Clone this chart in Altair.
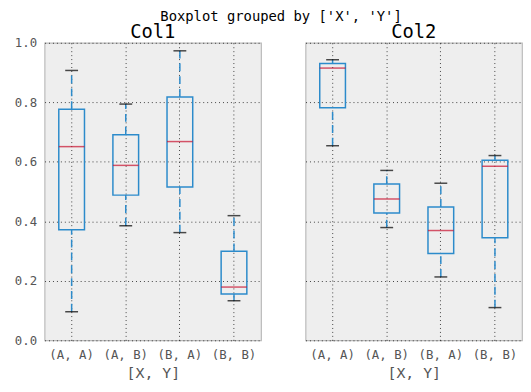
import altair as alt
import pandas as pd

groups = ["(A, A)", "(A, B)", "(B, A)", "(B, B)"]

# Col1 statistics
c1_lo = [0.096, 0.385, 0.362, 0.133]
c1_q1 = [0.372, 0.488, 0.515, 0.156]
c1_med = [0.651, 0.588, 0.668, 0.179]
c1_q3 = [0.777, 0.691, 0.818, 0.299]
c1_hi = [0.907, 0.794, 0.973, 0.419]

# Col2 statistics
c2_lo = [0.654, 0.379, 0.213, 0.110]
c2_q1 = [0.782, 0.428, 0.292, 0.345]
c2_med = [0.915, 0.475, 0.369, 0.585]
c2_q3 = [0.930, 0.525, 0.448, 0.605]
c2_hi = [0.943, 0.571, 0.528, 0.621]

BLUE = "#2C8BCB"
RED = "#C8102E"
MONO = "DejaVu Sans Mono"


def panel(title, lo, q1, med, q3, hi, show_y, toff):
    df = pd.DataFrame({"g": groups, "lo": lo, "q1": q1, "med": med, "q3": q3, "hi": hi})
    xenc = alt.X("g:N", sort=groups, title="[X, Y]",
                 scale=alt.Scale(paddingInner=0, paddingOuter=0),
                 axis=alt.Axis(labelAngle=0, bandPosition=0.5, grid=True, ticks=False,
                               domain=False, labelPadding=8, titlePadding=5))
    yaxis = alt.Axis(values=[0, 0.2, 0.4, 0.6, 0.8, 1.0], format=".1f", grid=True,
                     ticks=False, domain=False, labelPadding=8,
                     labels=show_y, title=None)
    yscale = alt.Scale(domain=[0, 1], nice=False)
    base = alt.Chart(df)
    w1 = base.mark_rule(color=BLUE, strokeWidth=1.5, strokeDash=[8, 5]).encode(
        x=xenc, y=alt.Y("lo:Q", scale=yscale, axis=yaxis), y2="q1:Q")
    w2 = base.mark_rule(color=BLUE, strokeWidth=1.5, strokeDash=[8, 5]).encode(
        x=xenc, y=alt.Y("q3:Q", scale=yscale, axis=yaxis), y2="hi:Q")
    box = base.mark_bar(size=26, fill="#EEEEEE", fillOpacity=0, stroke=BLUE, strokeWidth=1.5).encode(
        x=xenc, y=alt.Y("q1:Q", scale=yscale, axis=yaxis), y2="q3:Q")
    medt = base.mark_tick(size=26, thickness=1.5, color=RED).encode(
        x=xenc, y=alt.Y("med:Q", scale=yscale, axis=yaxis))
    lot = base.mark_tick(size=13, thickness=1.5, color="black").encode(
        x=xenc, y=alt.Y("lo:Q", scale=yscale, axis=yaxis))
    hit = base.mark_tick(size=13, thickness=1.5, color="black").encode(
        x=xenc, y=alt.Y("hi:Q", scale=yscale, axis=yaxis))
    return alt.layer(w1, w2, box, medt, lot, hit).properties(
        width=219, height=301,
        title=alt.TitleParams(title, font=MONO, fontSize=19, fontWeight="normal",
                              color="black", offset=toff))


left = panel("Col1", c1_lo, c1_q1, c1_med, c1_q3, c1_hi, True, -5)
right = panel("Col2", c2_lo, c2_q1, c2_med, c2_q3, c2_hi, False, 1)

chart = alt.hconcat(left, right, spacing=43).properties(
    background="white",
    padding={"left": 5, "top": 0, "right": 0, "bottom": 0},
    title=alt.TitleParams("Boxplot grouped by ['X', 'Y']", font=MONO, fontSize=14,
                          fontWeight="normal", color="black", anchor="middle",
                          offset=-2, dx=13)
).configure_view(
    fill="#EEEEEE", stroke="#BBBBBB", strokeWidth=1.2
).configure_axis(
    labelFont=MONO, labelFontSize=12.5, labelColor="#555555",
    titleFont=MONO, titleFontSize=15, titleFontWeight="normal", titleColor="#555555",
    gridColor="black", gridDash=[1, 3], gridWidth=0.8, gridOpacity=0.9
)

chart.save("out.html", embed_options={"renderer": "svg", "actions": False})
